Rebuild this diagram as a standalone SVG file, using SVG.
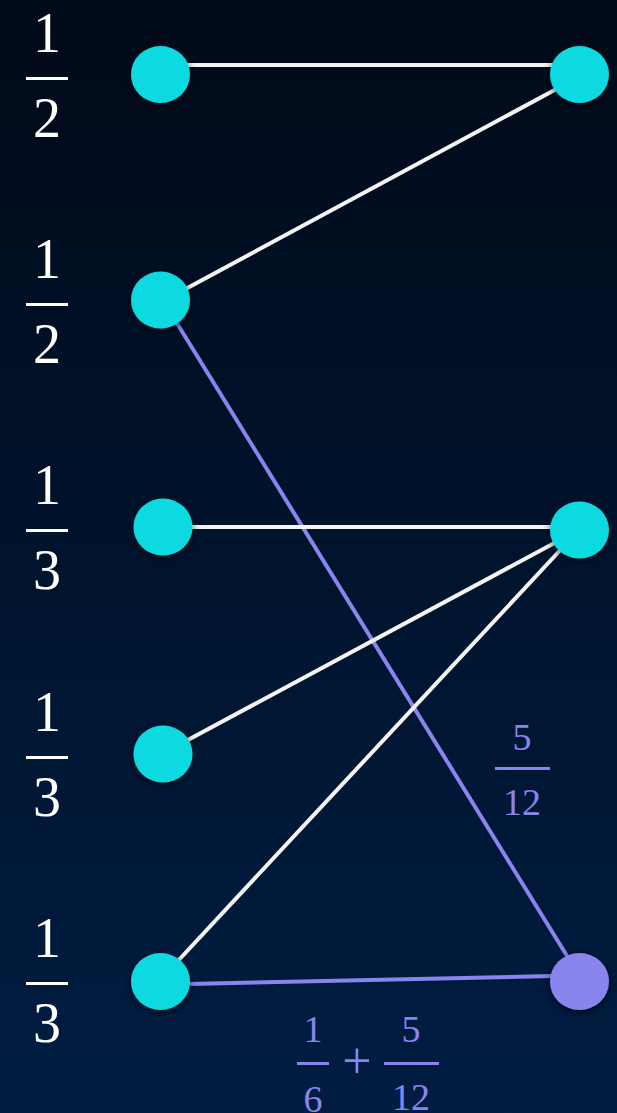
<svg xmlns="http://www.w3.org/2000/svg" width="617" height="1113" viewBox="0 0 617 1113">
<defs>
<linearGradient id="bg" x1="0" y1="0" x2="0" y2="1">
<stop offset="0" stop-color="#010a18"/>
<stop offset="1" stop-color="#001d42"/>
</linearGradient>
<filter id="sh" x="-50%" y="-50%" width="200%" height="200%">
<feDropShadow dx="0" dy="2" stdDeviation="4" flood-color="#000000" flood-opacity="0.6"/>
</filter>
<style>
.w{stroke:#f4f4f4;stroke-width:4;fill:none}
.p{stroke:#8a84ee;stroke-width:4;fill:none}
.n{fill:#11d9e0;filter:url(#sh)}
.np{fill:#8a84ee;filter:url(#sh)}
.ft{font-family:"Liberation Serif",serif;font-size:56px;fill:#ffffff;text-anchor:middle}
.fs{font-family:"Liberation Serif",serif;font-size:38px;fill:#8a84ee;text-anchor:middle}
.bar{fill:#ffffff}
.barp{fill:#8a84ee}
</style>
</defs>
<rect width="617" height="1113" fill="url(#bg)"/>
<g id="labels">
<text class="ft" x="47" y="52">1</text><rect class="bar" x="26" y="77" width="42" height="3"/><text class="ft" x="47" y="137">2</text>
<text class="ft" x="47" y="278">1</text><rect class="bar" x="26" y="303" width="42" height="3"/><text class="ft" x="47" y="363">2</text>
<text class="ft" x="47" y="504">1</text><rect class="bar" x="26" y="529" width="42" height="3"/><text class="ft" x="47" y="589">3</text>
<text class="ft" x="47" y="731">1</text><rect class="bar" x="26" y="756" width="42" height="3"/><text class="ft" x="47" y="816">3</text>
<text class="ft" x="47" y="957">1</text><rect class="bar" x="26" y="982" width="42" height="3"/><text class="ft" x="47" y="1042">3</text>
</g>
<g id="connectors">
<line class="w" x1="185" y1="65" x2="560" y2="65"/>
<line class="w" x1="180" y1="292" x2="562" y2="86"/>
<line class="p" x1="170" y1="312" x2="572" y2="964"/>
<line class="w" x1="190" y1="527" x2="555" y2="527"/>
<line class="w" x1="186" y1="741" x2="560" y2="540"/>
<line class="w" x1="176" y1="963" x2="565" y2="545"/>
<line class="p" x1="188" y1="984" x2="552" y2="976"/>
</g>
<g id="edge-label-1">
<text class="fs" x="522" y="750">5</text><rect class="barp" x="495" y="767" width="55" height="3"/><text class="fs" x="522" y="815">12</text>
</g>
<g id="edge-label-2">
<text class="fs" x="313" y="1042">1</text><rect class="barp" x="297" y="1062" width="32" height="3"/>
<text class="fs" x="313" y="1112">6</text>
<text class="fs" x="357" y="1078" style="font-size:52px">+</text>
<text class="fs" x="411" y="1042">5</text><rect class="barp" x="384" y="1062" width="55" height="3"/>
<text class="fs" x="411" y="1110">12</text>
</g>
<g id="node-l1"><ellipse class="n" cx="160.5" cy="74.5" rx="29.5" ry="28.5"/></g>
<g id="node-l2"><ellipse class="n" cx="160.5" cy="300" rx="29.5" ry="28.5"/></g>
<g id="node-l3"><ellipse class="n" cx="163" cy="527" rx="29.5" ry="28.5"/></g>
<g id="node-l4"><ellipse class="n" cx="163" cy="754" rx="29.5" ry="28.5"/></g>
<g id="node-l5"><ellipse class="n" cx="160.5" cy="981.5" rx="29.5" ry="28.5"/></g>
<g id="node-r1"><ellipse class="n" cx="579.5" cy="74.5" rx="29.5" ry="28.5"/></g>
<g id="node-r2"><ellipse class="n" cx="579.5" cy="530" rx="29.5" ry="28.5"/></g>
<g id="node-r3"><ellipse class="np" cx="579.5" cy="981.5" rx="29.5" ry="28.5"/></g>
</svg>
